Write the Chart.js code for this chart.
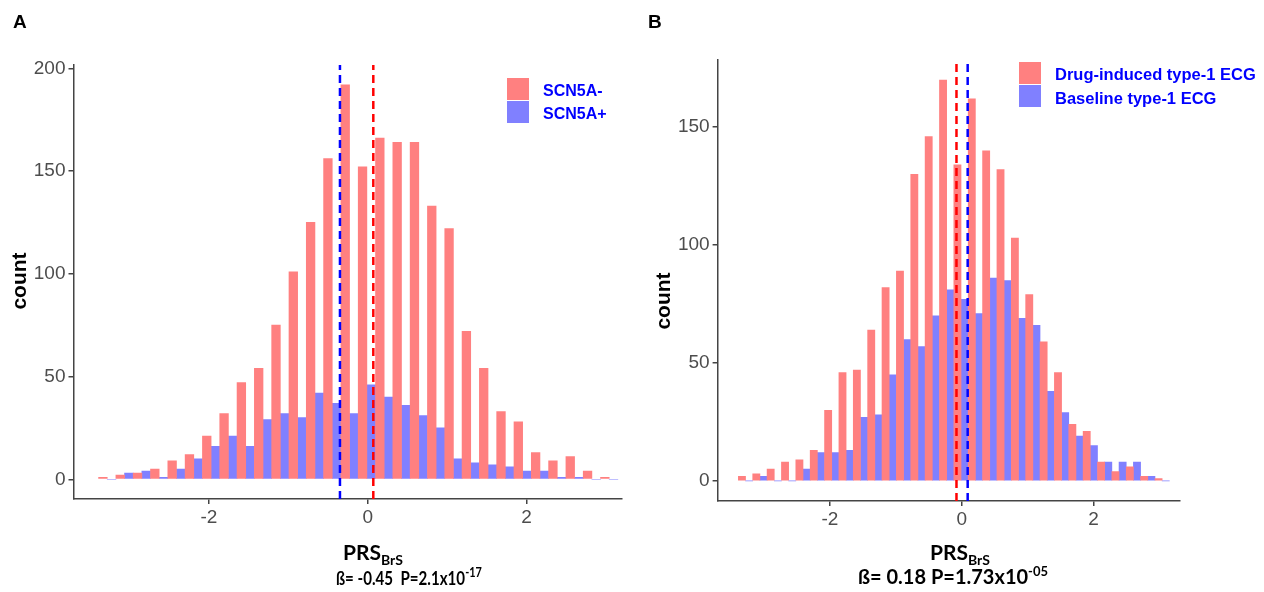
<!DOCTYPE html>
<html>
<head>
<meta charset="utf-8">
<script src="https://cdn.jsdelivr.net/npm/chart.js@4.4.1/dist/chart.umd.min.js"></script>
<style>
  body { margin: 0; background: #fff; }
  #wrap { position: relative; width: 1264px; height: 592px; overflow: hidden; font-family: 'Liberation Sans', Arial, sans-serif; }
  canvas { position: absolute; top: 0; }
  #chartA { left: 0; }
  #chartB { left: 632px; }
  .lbl { position: absolute; white-space: nowrap; line-height: 1; color: #000; }
  .panel { font-weight: bold; font-size: 19px; }
  .ytitle { font-weight: bold; font-size: 21px; transform: translate(-50%, -50%) rotate(-90deg); }
  .xtitle { font-family: Lato, 'Open Sans', sans-serif; font-weight: bold; font-size: 21px; }
  .xtitle sub { font-size: 14px; vertical-align: -5px; line-height: 1; }
  .stat { font-family: Lato, 'Open Sans', sans-serif; font-weight: bold; font-size: 20px; transform-origin: 0 0; }
  .stat sup { font-size: 13px; vertical-align: 8px; line-height: 1; }
  .key { position: absolute; width: 22px; height: 22px; }
  .keytxt { position: absolute; white-space: nowrap; line-height: 1; color: #0000ff; font-weight: bold; }
</style>
</head>
<body>
<div id="wrap">
  <canvas id="chartA" width="632" height="592"></canvas>
  <canvas id="chartB" width="632" height="592"></canvas>

  <div class="lbl panel" style="left:13px; top:12px;">A</div>
  <div class="lbl panel" style="left:648px; top:12px;">B</div>

  <div class="lbl ytitle" style="left:18px; top:281px;">count</div>
  <div class="lbl ytitle" style="left:662px; top:301px;">count</div>

  <div class="lbl xtitle" style="left:343px; top:541px;">PRS<sub>BrS</sub></div>
  <div class="lbl xtitle" style="left:930px; top:541px;">PRS<sub>BrS</sub></div>
  <div class="lbl stat" style="left:336px; top:566px; font-size:18px; transform:scaleX(0.84);">ß= -0.45&nbsp; P=2.1x10<sup>-17</sup></div>
  <div class="lbl stat" style="left:858px; top:565px;">ß= 0.18 P=1.73x10<sup>-05</sup></div>

  <div class="key" style="left:507px; top:78px; background:#ff8080;"></div>
  <div class="key" style="left:507px; top:101px; background:#8080ff;"></div>
  <div class="keytxt" style="left:543px; top:83px; font-size:16px;">SCN5A-</div>
  <div class="keytxt" style="left:543px; top:106px; font-size:16px;">SCN5A+</div>

  <div class="key" style="left:1019px; top:62px; background:#ff8080;"></div>
  <div class="key" style="left:1019px; top:85px; background:#8080ff;"></div>
  <div class="keytxt" style="left:1055px; top:66px; font-size:16.5px;">Drug-induced type-1 ECG</div>
  <div class="keytxt" style="left:1055px; top:90px; font-size:16.5px;">Baseline type-1 ECG</div>
</div>
<script>
// --- Dados ---
// centro de cada bin do histograma (30 bins)
const binMid = [-3.281, -3.063, -2.845, -2.627, -2.409, -2.191, -1.973, -1.755, -1.537, -1.319,
                -1.101, -0.883, -0.665, -0.447, -0.229, -0.011, 0.207, 0.425, 0.643, 0.861,
                1.079, 1.297, 1.515, 1.733, 1.951, 2.169, 2.387, 2.605, 2.823, 3.041];

// painel A
const scn5aNeg = [1, 2, 3, 5, 9, 12, 21, 32, 47, 54, 75, 101, 125, 156, 192,
                  152, 166, 164, 164, 133, 122, 72, 54, 33, 28, 13, 9, 11, 4, 1];
const scn5aPos = [0, 3, 4, 1, 5, 10, 16, 21, 16, 29, 32, 30, 42, 37, 32,
                  46, 40, 36, 31, 25, 10, 8, 7, 6, 4, 4, 1, 1, 0, 0];
const meanNegA = 0.07;
const meanPosA = -0.35;

// painel B
const drugInduced = [2, 3, 5, 8, 9, 13, 30, 46, 47, 64, 82, 89, 130, 146, 170,
                     134, 162, 140, 132, 103, 79, 59, 46, 24, 21, 8, 4, 6, 2, 1];
const baselineEcg = [0, 2, 0, 0, 5, 12, 12, 13, 27, 28, 45, 60, 57, 70, 81,
                     77, 71, 86, 85, 69, 66, 38, 29, 19, 15, 8, 8, 8, 2, 0];
const meanDrugB = -0.08;
const meanBaseB = 0.09;

// eixos
const xTicks = [-2, 0, 2];
const yTicksA = [0, 50, 100, 150, 200];
const yTicksB = [0, 50, 100, 150];
const xRangeA = [-3.706, 3.196];
const yRangeA = [-9.6, 201.6];
const xRangeB = [-3.705, 3.312];
const yRangeB = [-8.5, 178.5];

const tickFont = { family: "'Liberation Sans', Arial, sans-serif", size: 19 };
const axisColor = '#444';

function toPoints(values) {
    return binMid.map((x, i) => ({ x: x, y: values[i] }));
}

// linha vertical tracejada da média
function meanLine(x, yr, color) {
    return {
        type: 'line',
        data: [{ x: x, y: yr[0] }, { x: x, y: yr[1] }],
        borderColor: color,
        borderWidth: 2.5,
        borderDash: [8, 5],
        pointRadius: 0,
        fill: false
    };
}

function drawPanel(id, red, blue, mRed, mBlue, xr, yr, yTicks, box) {
    new Chart(document.getElementById(id), {
        type: 'bar',
        data: {
            datasets: [
                meanLine(mBlue, yr, '#0000ff'),
                meanLine(mRed, yr, '#ff0000'),
                { data: toPoints(red), backgroundColor: '#ff8080', borderWidth: 0, categoryPercentage: 1, barPercentage: 1 },
                { data: toPoints(blue), backgroundColor: '#8080ff', borderWidth: 0, categoryPercentage: 1, barPercentage: 1 }
            ]
        },
        options: {
            responsive: false,
            animation: false,
            devicePixelRatio: 1,
            layout: { padding: { left: 0, top: box.top, right: box.right, bottom: 0 } },
            plugins: { legend: { display: false }, tooltip: { enabled: false } },
            scales: {
                x: {
                    type: 'linear',
                    min: xr[0],
                    max: xr[1],
                    offset: false,
                    afterBuildTicks: s => { s.ticks = xTicks.map(v => ({ value: v })); },
                    afterFit: s => { s.height = box.xh; },
                    grid: { offset: false, drawOnChartArea: false, color: axisColor, lineWidth: 1.5, tickLength: 5 },
                    border: { display: true, color: axisColor, width: 1.5 },
                    ticks: { font: tickFont, color: '#4d4d4d', padding: 2, maxRotation: 0 }
                },
                y: {
                    type: 'linear',
                    min: yr[0],
                    max: yr[1],
                    afterBuildTicks: s => { s.ticks = yTicks.map(v => ({ value: v })); },
                    afterFit: s => { s.width = box.yw; },
                    grid: { drawOnChartArea: false, color: axisColor, lineWidth: 1.5, tickLength: 5 },
                    border: { display: true, color: axisColor, width: 1.5 },
                    ticks: { font: tickFont, color: '#4d4d4d', padding: 3 }
                }
            }
        }
    });
}

drawPanel('chartA', scn5aNeg, scn5aPos, meanNegA, meanPosA, xRangeA, yRangeA, yTicksA,
          { top: 65, right: 10.5, xh: 93, yw: 73.5 });
drawPanel('chartB', drugInduced, baselineEcg, meanDrugB, meanBaseB, xRangeB, yRangeB, yTicksB,
          { top: 60, right: 84, xh: 91, yw: 85.6 });
</script>
</body>
</html>
